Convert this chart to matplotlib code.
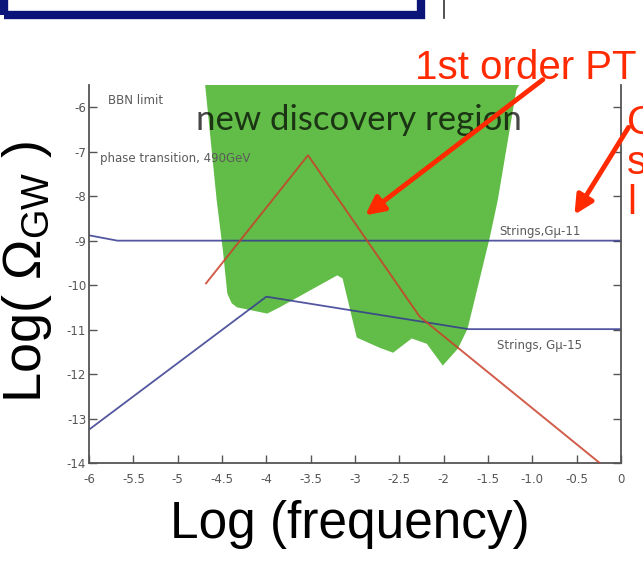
import numpy as np
import matplotlib
matplotlib.use("Agg")
import matplotlib.pyplot as plt
from matplotlib.patches import FancyArrowPatch, Rectangle

plt.rcParams['mathtext.fontset'] = 'custom'
plt.rcParams['mathtext.rm'] = 'Liberation Sans'
plt.rcParams['mathtext.it'] = 'Liberation Sans:italic'

# data (log frequency, log Omega_GW)
region_x = [-4.69, -4.56, -4.49, -4.44, -4.39, -4.33, -3.99, -3.85, -3.20, -3.14,
            -2.98, -2.72, -2.57, -2.36, -2.19, -2.01, -1.84, -1.73, -1.48, -1.39,
            -1.18, -1.15]
region_y = [-5.5, -8.09, -9.22, -10.19, -10.41, -10.50, -10.64, -10.50, -9.78, -9.85,
            -11.18, -11.41, -11.52, -11.20, -11.32, -11.81, -11.43, -10.98, -8.93, -8.09,
            -5.61, -5.5]

pt_x = [-4.68, -3.53, -2.27, -0.24]
pt_y = [-9.96, -7.08, -10.71, -14.0]

str11_x = [-6.0, -5.68, 0.0]
str11_y = [-8.88, -9.0, -9.0]

str15_x = [-6.0, -4.0, -1.72, 0.0]
str15_y = [-13.25, -10.26, -10.99, -10.99]

xticks = np.arange(-6, 0.01, 0.5)
xtick_labels = ['-6', '-5.5', '-5', '-4.5', '-4', '-3.5', '-3', '-2.5', '-2',
                '-1.5', '-1.0', '-0.5', '0']
yticks = np.arange(-14, -5, 1)

W, H = 643, 562
fig = plt.figure(figsize=(W / 100, H / 100), dpi=100)


def fx(px):
    return px / W


def fy(py):
    return 1 - py / H


ax = fig.add_axes([fx(89), fy(463), fx(621) - fx(89), fy(85) - fy(463)])
ax.fill(region_x, region_y, color='#62bd48', lw=0, zorder=1)
ax.plot(pt_x, pt_y, color='#c9402a', lw=1.4, alpha=0.85, zorder=3)
ax.plot(str11_x, str11_y, color='#343a90', lw=1.3, alpha=0.85, zorder=2)
ax.plot(str15_x, str15_y, color='#343a90', lw=1.3, alpha=0.85, zorder=2)

ax.set_xlim(-6, 0)
ax.set_ylim(-14, -5.5)
ax.set_xticks(xticks)
ax.set_xticklabels(xtick_labels)
ax.set_yticks(yticks)
ax.set_yticklabels([str(v) for v in yticks])
ax.tick_params(direction='in', length=6, width=1, colors='#555555', labelsize=8.5,
               right=True)
ax.tick_params(axis='x', pad=7)
ax.tick_params(axis='y', pad=2)
for side in ['left', 'bottom', 'right']:
    ax.spines[side].set_color('#555555')
    ax.spines[side].set_linewidth(1.3)
ax.spines['top'].set_visible(False)

small = dict(family='DejaVu Sans', fontsize=8.5, color='#5a5a5a')
ax.text(-5.79, -5.84, 'BBN limit', va='center', **small)
ax.text(-5.88, -7.15, 'phase transition, 490GeV', va='center', **small)
ax.text(-1.37, -8.93, 'Strings,G\u03bc-11', va='bottom', **small)
ax.text(-1.40, -11.35, 'Strings, G\u03bc-15', va='center', **small)
ax.text(-4.79, -6.29, 'new discovery region', family='Lato', fontsize=25,
        color='black', alpha=0.72, va='center', zorder=4)

# axis titles
fig.text(fx(350), fy(538), 'Log (frequency)', family='Liberation Sans',
         fontsize=37, ha='center', va='baseline')
fig.text(fx(27), fy(272), r'Log( $\Omega_{\mathrm{GW}}$ )', family='Liberation Sans',
         fontsize=39, rotation=90, ha='center', va='center')

# slide annotations
red = '#ff2a00'
fig.text(fx(415), fy(79), '1st order PT', family='Liberation Sans', fontsize=29,
         color=red, va='baseline')
for py, s in [(134, 'C'), (174, 's'), (214, 'l')]:
    fig.text(fx(627), fy(py), s, family='Liberation Sans', fontsize=29,
             color=red, va='baseline')
for tail, tip in [((545, 78), (363, 217)), ((630, 125), (573, 217))]:
    fig.add_artist(FancyArrowPatch((fx(tail[0]), fy(tail[1])), (fx(tip[0]), fy(tip[1])),
                                   transform=fig.transFigure, arrowstyle='-|>',
                                   mutation_scale=28, lw=3.5, color=red))

# top of the slide: box edge and a bar
fig.add_artist(Rectangle((fx(4), fy(15)), fx(421) - fx(4), fy(-10) - fy(15),
                         transform=fig.transFigure, fill=False, ec='#0b1478', lw=6))
fig.add_artist(plt.Line2D([fx(444), fx(444)], [fy(0), fy(18)],
                          transform=fig.transFigure, color='#333333', lw=1.2))

fig.savefig('out.png', dpi=100)
